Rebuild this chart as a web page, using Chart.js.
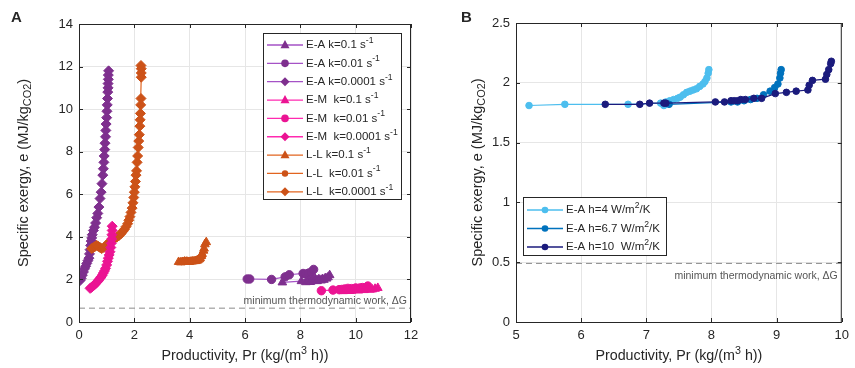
<!DOCTYPE html>
<html>
<head>
<meta charset="utf-8">
<script src="https://cdn.jsdelivr.net/npm/chart.js@4.4.0/dist/chart.umd.min.js"></script>
<style>
  html, body { margin: 0; padding: 0; background: #fff; }
  #wrap { position: relative; width: 855px; height: 368px; }
  #chartA { position: absolute; left: 0; top: 0; }
  #chartB { position: absolute; left: 428px; top: 0; }
</style>
</head>
<body>
<div id="wrap">
  <canvas id="chartA" width="428" height="368"></canvas>
  <canvas id="chartB" width="427" height="368"></canvas>
</div>
<script>
// ---- panel A data ----
const eaK01X = [7.35, 8.04, 8.2, 8.26, 8.3, 8.35, 8.38, 8.42, 8.45, 8.5, 8.54, 8.56, 8.6, 8.62, 8.66, 8.7, 8.75, 8.8, 8.85, 8.9, 8.95, 9.0, 9.06];
const eaK01Y = [1.86, 1.92, 1.87, 1.92, 1.95, 1.88, 1.9, 1.97, 2.0, 1.93, 2.02, 1.98, 1.92, 1.95, 2.0, 1.99, 1.95, 2.02, 1.98, 2.06, 2.04, 2.1, 2.2];
const eaK001X = [6.08, 6.17, 6.96, 7.45, 7.6, 8.1, 8.2, 8.3, 8.4, 8.48];
const eaK001Y = [2.02, 2.02, 2.0, 2.12, 2.22, 2.28, 2.25, 2.3, 2.35, 2.47];
const eaK00001X = [0.04, 0.08, 0.12, 0.16, 0.2, 0.24, 0.28, 0.32, 0.36, 0.38, 0.4, 0.42, 0.44, 0.46, 0.48, 0.52, 0.56, 0.6, 0.64, 0.68, 0.72, 0.76, 0.8, 0.83, 0.86, 0.88, 0.9, 0.91, 0.93, 0.94, 0.96, 0.97, 0.98, 1.0, 1.01, 1.02, 1.03, 1.04, 1.05, 1.05, 1.06, 1.06, 1.07];
const eaK00001Y = [1.95, 2.05, 2.2, 2.35, 2.5, 2.62, 2.75, 2.88, 3.0, 3.2, 3.4, 3.6, 3.8, 3.95, 4.1, 4.3, 4.45, 4.65, 4.9, 5.1, 5.4, 5.8, 6.1, 6.5, 6.9, 7.2, 7.5, 7.8, 8.1, 8.4, 8.7, 9.0, 9.3, 9.6, 9.9, 10.2, 10.5, 10.8, 11.0, 11.2, 11.4, 11.6, 11.8];

const emK01X = [9.55, 9.62, 9.7, 9.78, 9.85, 9.92, 10.0, 10.1, 10.2, 10.3, 10.38, 10.45, 10.52, 10.6, 10.7, 10.8];
const emK01Y = [1.45, 1.47, 1.48, 1.46, 1.47, 1.5, 1.5, 1.48, 1.52, 1.5, 1.54, 1.55, 1.52, 1.53, 1.56, 1.6];
const emK001X = [8.76, 9.18, 9.4, 9.5, 9.6, 9.72, 9.85, 10.0, 10.15, 10.25, 10.44];
const emK001Y = [1.47, 1.5, 1.52, 1.53, 1.55, 1.58, 1.57, 1.6, 1.6, 1.62, 1.69];
const emK00001X = [0.4, 0.44, 0.48, 0.52, 0.56, 0.6, 0.64, 0.68, 0.72, 0.76, 0.8, 0.84, 0.88, 0.92, 0.96, 1.0, 1.03, 1.06, 1.09, 1.12, 1.15, 1.17, 1.18, 1.19, 1.2, 1.2];
const emK00001Y = [1.58, 1.62, 1.66, 1.7, 1.75, 1.8, 1.86, 1.92, 1.98, 2.05, 2.12, 2.2, 2.3, 2.4, 2.52, 2.68, 2.85, 3.0, 3.15, 3.3, 3.5, 3.7, 3.9, 4.1, 4.3, 4.5];

const llK01X = [3.6, 3.68, 3.75, 3.82, 3.9, 3.98, 4.05, 4.12, 4.2, 4.26, 4.3, 4.35, 4.38, 4.42, 4.45, 4.5, 4.52, 4.55, 4.6];
const llK01Y = [2.82, 2.8, 2.82, 2.84, 2.83, 2.82, 2.84, 2.85, 2.86, 2.88, 2.9, 2.95, 3.0, 3.1, 3.2, 3.35, 3.45, 3.65, 3.75];
const llK001X = [3.7, 3.8, 3.9, 4.0, 4.1, 4.2, 4.3, 4.38, 4.45];
const llK001Y = [2.85, 2.86, 2.88, 2.87, 2.88, 2.9, 2.92, 3.0, 3.1];
const llK00001X = [0.46, 0.52, 0.58, 0.64, 0.7, 0.76, 0.82, 0.9, 0.98, 1.06, 1.12, 1.2, 1.28, 1.36, 1.44, 1.52, 1.58, 1.64, 1.7, 1.76, 1.8, 1.84, 1.88, 1.92, 1.95, 1.98, 2.0, 2.02, 2.04, 2.06, 2.08, 2.1, 2.12, 2.14, 2.16, 2.18, 2.2, 2.21, 2.22, 2.23, 2.24, 2.25, 2.25, 2.25, 2.24];
const llK00001Y = [3.45, 3.5, 3.55, 3.6, 3.55, 3.5, 3.45, 3.5, 3.6, 3.7, 3.78, 3.85, 3.92, 3.98, 4.05, 4.15, 4.25, 4.35, 4.48, 4.62, 4.78, 4.95, 5.15, 5.35, 5.6, 5.85, 6.1, 6.35, 6.6, 6.9, 7.1, 7.5, 7.8, 8.2, 8.5, 8.8, 9.2, 9.5, 9.8, 10.2, 10.5, 11.5, 11.7, 11.9, 12.05];

const dGA = 0.65;
const labelsA = ['E-A k=0.1 s^{-1}', 'E-A k=0.01 s^{-1}', 'E-A k=0.0001 s^{-1}',
                 'E-M  k=0.1 s^{-1}', 'E-M  k=0.01 s^{-1}', 'E-M  k=0.0001 s^{-1}',
                 'L-L k=0.1 s^{-1}', 'L-L  k=0.01 s^{-1}', 'L-L  k=0.0001 s^{-1}'];

// ---- panel B data ----
const h4X = [5.2, 5.75, 6.72, 7.22, 7.27, 7.3, 7.36, 7.42, 7.48, 7.52, 7.57, 7.62, 7.67, 7.72, 7.77, 7.82, 7.87, 7.9, 7.93, 7.95, 7.96];
const h4Y = [1.81, 1.82, 1.82, 1.83, 1.81, 1.84, 1.85, 1.86, 1.87, 1.88, 1.9, 1.92, 1.93, 1.94, 1.95, 1.97, 1.99, 2.01, 2.04, 2.08, 2.11];
const h67X = [7.35, 8.3, 8.4, 8.5, 8.6, 8.7, 8.8, 8.9, 8.97, 9.02, 9.05, 9.06, 9.07];
const h67Y = [1.82, 1.84, 1.84, 1.85, 1.86, 1.87, 1.9, 1.93, 1.96, 1.99, 2.04, 2.08, 2.11];
const h10X = [6.37, 6.9, 7.05, 7.27, 7.3, 8.06, 8.2, 8.3, 8.35, 8.4, 8.45, 8.52, 8.65, 8.77, 8.98, 9.15, 9.3, 9.48, 9.5, 9.55, 9.75, 9.77, 9.8, 9.83, 9.84];
const h10Y = [1.82, 1.82, 1.83, 1.83, 1.83, 1.84, 1.84, 1.85, 1.85, 1.85, 1.86, 1.86, 1.87, 1.87, 1.91, 1.92, 1.93, 1.94, 1.98, 2.02, 2.03, 2.07, 2.11, 2.16, 2.18];

const dGB = 0.49;
const labelsB = ['E-A h=4 W/m^{2}/K', 'E-A h=6.7 W/m^{2}/K', 'E-A h=10  W/m^{2}/K'];

const FONT = '"Liberation Sans", Arial, Helvetica, sans-serif';
const TXT = '#262626';
const EA_LINE = '#A552C6', EA_MARK = '#7E2F8E';
const EM_LINE = '#FF2AB0', EM_MARK = '#EB1493';
const LL_LINE = '#E2641F', LL_MARK = '#CC5218';
const H4 = '#4DBEEE', H67 = '#0072BD', H10 = '#1B1B7D';

function pts(xs, ys) { return xs.map((x, i) => ({ x: x, y: ys[i] })); }

// "text^{sup}_{sub}" -> pieces
function parseRich(s) {
  return s.split(/(\^\{[^}]*\}|_\{[^}]*\})/).filter(p => p).map(p => {
    if (p[0] === '^') return { t: p.slice(2, -1), k: 'sup' };
    if (p[0] === '_') return { t: p.slice(2, -1), k: 'sub' };
    return { t: p, k: '' };
  });
}

function drawRich(ctx, s, x, y, size, align) {
  const parts = parseRich(s);
  let w = 0;
  parts.forEach(p => {
    ctx.font = (p.k ? size * 0.75 : size) + 'px ' + FONT;
    p.w = ctx.measureText(p.t).width;
    w += p.w;
  });
  let cx = align === 'center' ? x - w / 2 : align === 'right' ? x - w : x;
  ctx.textAlign = 'left';
  ctx.textBaseline = 'middle';
  parts.forEach(p => {
    ctx.font = (p.k ? size * 0.75 : size) + 'px ' + FONT;
    const dy = p.k === 'sup' ? -size * 0.38 : p.k === 'sub' ? size * 0.3 : 0;
    ctx.fillText(p.t, cx, y + dy);
    cx += p.w;
  });
}

function drawMarker(ctx, style, x, y, r, color) {
  ctx.fillStyle = color;
  ctx.beginPath();
  if (style === 'circle') {
    ctx.arc(x, y, r, 0, Math.PI * 2);
  } else if (style === 'triangle') {
    ctx.moveTo(x, y - r * 1.1);
    ctx.lineTo(x + r, y + r * 0.7);
    ctx.lineTo(x - r, y + r * 0.7);
    ctx.closePath();
  } else {
    ctx.moveTo(x, y - r); ctx.lineTo(x + r, y); ctx.lineTo(x, y + r); ctx.lineTo(x - r, y);
    ctx.closePath();
  }
  ctx.fill();
}

const decor = {
  id: 'decor',
  afterDraw(chart, args, o) {
    const ctx = chart.ctx, a = chart.chartArea;
    const xs = chart.scales.x, ys = chart.scales.y;
    ctx.save();
    // box and inward ticks
    ctx.strokeStyle = TXT;
    ctx.lineWidth = 1;
    ctx.strokeRect(a.left + 0.5, a.top + 0.5, a.right - a.left - 1, a.bottom - a.top);
    ctx.beginPath();
    xs.ticks.forEach(t => {
      const p = Math.round(xs.getPixelForValue(t.value)) + 0.5;
      ctx.moveTo(p, a.bottom); ctx.lineTo(p, a.bottom - 4);
      ctx.moveTo(p, a.top); ctx.lineTo(p, a.top + 4);
    });
    ys.ticks.forEach(t => {
      const p = Math.round(ys.getPixelForValue(t.value)) + 0.5;
      ctx.moveTo(a.left, p); ctx.lineTo(a.left + 4, p);
      ctx.moveTo(a.right, p); ctx.lineTo(a.right - 4, p);
    });
    ctx.stroke();

    // label of the dashed line
    ctx.fillStyle = '#555';
    const gy = ys.getPixelForValue(o.dG);
    drawRich(ctx, 'minimum thermodynamic work, \u0394G', a.right - 4, gy + o.dGOffset, 10.5, 'right');

    // legend
    const L = o.legend;
    ctx.fillStyle = '#fff';
    ctx.fillRect(L.x, L.y, L.w, L.h);
    ctx.strokeStyle = TXT;
    ctx.strokeRect(L.x + 0.5, L.y + 0.5, L.w, L.h);
    L.rows.forEach((r, i) => {
      const ry = L.y + L.first + i * L.step;
      ctx.strokeStyle = r.line;
      ctx.lineWidth = 1.3;
      ctx.beginPath();
      ctx.moveTo(L.x + 4, ry); ctx.lineTo(L.x + L.lineW, ry);
      ctx.stroke();
      drawMarker(ctx, r.style, L.x + 4 + (L.lineW - 4) / 2, ry, r.r, r.mark);
      ctx.fillStyle = TXT;
      drawRich(ctx, r.label, L.x + L.lineW + 3, ry, 11.5, 'left');
    });

    // axis titles and panel letter
    ctx.fillStyle = TXT;
    drawRich(ctx, 'Productivity, Pr (kg/(m^{3} h))', (a.left + a.right) / 2, o.xTitleY, 14.3, 'center');
    ctx.save();
    ctx.translate(o.yTitleX, (a.top + a.bottom) / 2);
    ctx.rotate(-Math.PI / 2);
    drawRich(ctx, 'Specific exergy, e (MJ/kg_{CO2})', 0, 0, 14.5, 'center');
    ctx.restore();
    ctx.font = 'bold 15px ' + FONT;
    ctx.textAlign = 'left';
    ctx.textBaseline = 'middle';
    ctx.fillText(o.letter, o.letterX, 18);
    ctx.restore();
  }
};

function series(label, xs, ys, line, mark, style, r, order) {
  return {
    label: label, data: pts(xs, ys), showLine: true,
    borderColor: line, borderWidth: 1.2,
    pointStyle: style, pointRadius: r, pointBackgroundColor: mark, pointBorderColor: mark,
    pointBorderWidth: 1, order: order
  };
}

function dashed(x0, x1, y) {
  return {
    label: 'dG', data: [{ x: x0, y: y }, { x: x1, y: y }], showLine: true,
    borderColor: '#8a8a8a', borderWidth: 1, borderDash: [6, 4], pointRadius: 0, order: 9
  };
}

function axes(xMin, xMax, xStep, yMin, yMax, yStep, yWidth) {
  const grid = { color: '#e6e6e6', drawTicks: false };
  const tick = {
    color: TXT, font: { family: FONT, size: 13 }, padding: 6,
    callback: v => String(Math.round(v * 100) / 100)
  };
  return {
    x: {
      type: 'linear', min: xMin, max: xMax, grid: grid, border: { display: false },
      ticks: Object.assign({ stepSize: xStep, maxRotation: 0 }, tick),
      afterFit: s => { s.height = 46; }
    },
    y: {
      type: 'linear', min: yMin, max: yMax, grid: grid, border: { display: false },
      ticks: Object.assign({ stepSize: yStep }, tick),
      afterFit: s => { s.width = yWidth; }
    }
  };
}

new Chart(document.getElementById('chartA'), {
  type: 'scatter',
  data: {
    datasets: [
      series(labelsA[0], eaK01X, eaK01Y, EA_LINE, EA_MARK, 'triangle', 5, 2),
      series(labelsA[1], eaK001X, eaK001Y, EA_LINE, EA_MARK, 'circle', 4.2, 2),
      series(labelsA[2], eaK00001X, eaK00001Y, EA_LINE, EA_MARK, 'rectRot', 5, 2),
      series(labelsA[3], emK01X, emK01Y, EM_LINE, EM_MARK, 'triangle', 5, 0),
      series(labelsA[4], emK001X, emK001Y, EM_LINE, EM_MARK, 'circle', 4.2, 0),
      series(labelsA[5], emK00001X, emK00001Y, EM_LINE, EM_MARK, 'rectRot', 5, 0),
      series(labelsA[6], llK01X, llK01Y, LL_LINE, LL_MARK, 'triangle', 5, 1),
      series(labelsA[7], llK001X, llK001Y, LL_LINE, LL_MARK, 'circle', 3.5, 1),
      series(labelsA[8], llK00001X, llK00001Y, LL_LINE, LL_MARK, 'rectRot', 5, 1),
      dashed(0, 12, dGA)
    ]
  },
  options: {
    responsive: false, animation: false,
    layout: { padding: { left: 0, top: 24, right: 17, bottom: 0 } },
    scales: axes(0, 12, 2, 0, 14, 2, 79),
    plugins: {
      legend: { display: false }, tooltip: { enabled: false },
      decor: {
        dG: dGA, dGOffset: -7, xTitleY: 356, yTitleX: 24, letter: 'A', letterX: 11,
        legend: {
          x: 263, y: 33, w: 138, h: 166, first: 12, step: 18.35, lineW: 40,
          rows: [
            { label: labelsA[0], line: EA_LINE, mark: EA_MARK, style: 'triangle', r: 4.5 },
            { label: labelsA[1], line: EA_LINE, mark: EA_MARK, style: 'circle', r: 3.8 },
            { label: labelsA[2], line: EA_LINE, mark: EA_MARK, style: 'diamond', r: 4.5 },
            { label: labelsA[3], line: EM_LINE, mark: EM_MARK, style: 'triangle', r: 4.5 },
            { label: labelsA[4], line: EM_LINE, mark: EM_MARK, style: 'circle', r: 3.8 },
            { label: labelsA[5], line: EM_LINE, mark: EM_MARK, style: 'diamond', r: 4.5 },
            { label: labelsA[6], line: LL_LINE, mark: LL_MARK, style: 'triangle', r: 4.5 },
            { label: labelsA[7], line: LL_LINE, mark: LL_MARK, style: 'circle', r: 3.2 },
            { label: labelsA[8], line: LL_LINE, mark: LL_MARK, style: 'diamond', r: 4.5 }
          ]
        }
      }
    }
  },
  plugins: [decor]
});

new Chart(document.getElementById('chartB'), {
  type: 'scatter',
  data: {
    datasets: [
      series(labelsB[0], h4X, h4Y, H4, H4, 'circle', 3.3, 2),
      series(labelsB[1], h67X, h67Y, H67, H67, 'circle', 3.3, 1),
      series(labelsB[2], h10X, h10Y, H10, H10, 'circle', 3.3, 0),
      dashed(5, 10, dGB)
    ]
  },
  options: {
    responsive: false, animation: false,
    layout: { padding: { left: 0, top: 23, right: 7, bottom: 0 } },
    scales: axes(5, 10, 1, 0, 2.5, 0.5, 88),
    plugins: {
      legend: { display: false }, tooltip: { enabled: false },
      decor: {
        dG: dGB, dGOffset: 13, xTitleY: 356, yTitleX: 50, letter: 'B', letterX: 33,
        legend: {
          x: 95, y: 197, w: 143, h: 58, first: 13, step: 18.5, lineW: 40,
          rows: [
            { label: labelsB[0], line: H4, mark: H4, style: 'circle', r: 3.3 },
            { label: labelsB[1], line: H67, mark: H67, style: 'circle', r: 3.3 },
            { label: labelsB[2], line: H10, mark: H10, style: 'circle', r: 3.3 }
          ]
        }
      }
    }
  },
  plugins: [decor]
});
</script>
</body>
</html>
